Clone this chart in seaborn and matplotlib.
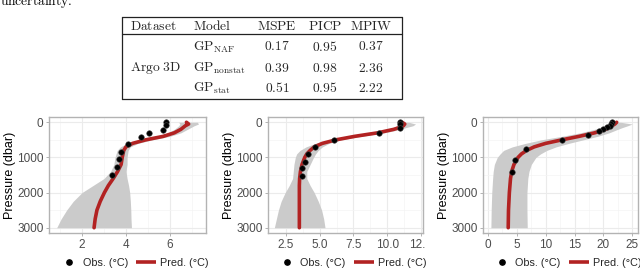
import numpy as np
import pandas as pd
import matplotlib
matplotlib.use("Agg")
import matplotlib.pyplot as plt
import seaborn as sns
from matplotlib.lines import Line2D
from matplotlib.patches import Rectangle

# ---------------- table data ----------------
table_header = ["Dataset", "Model", "MSPE", "PICP", "MPIW"]
dataset_name = "Argo 3D"
model_names = ["NAF", "nonstat", "stat"]
mspe_vals = ["0.17", "0.39", "0.51"]
picp_vals = ["0.95", "0.98", "0.95"]
mpiw_vals = ["0.37", "2.36", "2.22"]

# ---------------- panel 1 ----------------
obs1_temp = [5.82, 5.82, 5.70, 5.06, 4.68, 4.08, 3.76, 3.70, 3.58, 3.35]
obs1_pres = [0, 65, 207, 303, 415, 632, 840, 1048, 1275, 1500]
grid1_pres = [0, 50, 100, 200, 300, 400, 500, 600, 700, 800, 1000, 1200, 1400,
              1600, 1800, 2000, 2250, 2500, 2750, 3000]
pred1 = [6.75, 6.85, 6.7, 6.5, 6.2, 5.7, 4.9, 4.3, 4.0, 3.9, 3.83, 3.78, 3.62,
         3.42, 3.2, 3.02, 2.83, 2.68, 2.6, 2.55]
lower1 = [6.4, 6.45, 6.4, 6.2, 5.9, 5.4, 4.6, 4.05, 3.75, 3.6, 3.5, 3.45, 3.3,
          3.0, 2.5, 2.0, 1.6, 1.3, 1.05, 0.85]
upper1 = [7.25, 7.3, 7.1, 6.8, 6.5, 6.0, 5.2, 4.55, 4.2, 4.1, 4.05, 4.05, 4.0,
          4.05, 4.12, 4.17, 4.2, 4.22, 4.23, 4.25]

# ---------------- panel 2 ----------------
obs2_temp = [10.96, 10.96, 10.96, 9.43, 6.10, 4.65, 4.17, 3.92, 3.73, 3.68]
obs2_pres = [0, 60, 160, 312, 510, 708, 907, 1124, 1312, 1521]
grid2_pres = [0, 50, 100, 150, 200, 300, 400, 500, 600, 700, 800, 900, 1000,
              1200, 1400, 1600, 1800, 2000, 2250, 2500, 2750, 3000]
pred2 = [11.1, 11.3, 11.2, 10.9, 10.5, 9.3, 7.6, 6.2, 5.2, 4.6, 4.3, 4.05, 3.9,
         3.7, 3.58, 3.52, 3.5, 3.5, 3.5, 3.5, 3.5, 3.5]
lower2 = [10.7, 10.8, 10.7, 10.4, 10.0, 8.9, 7.2, 5.8, 4.7, 4.0, 3.55, 3.3, 3.2,
          3.1, 3.05, 3.0, 2.75, 2.45, 2.15, 1.95, 1.8, 1.65]
upper2 = [11.6, 12.1, 11.9, 11.4, 11.0, 9.8, 8.1, 6.6, 5.7, 5.2, 4.9, 4.7, 4.55,
          4.3, 4.05, 4.05, 4.3, 4.6, 4.9, 5.15, 5.3, 5.4]

# ---------------- panel 3 ----------------
obs3_temp = [21.5, 21.4, 21.1, 20.6, 19.9, 19.2, 17.4, 12.8, 6.6, 4.7, 4.1]
obs3_pres = [0, 40, 110, 135, 180, 246, 348, 510, 765, 1076, 1407]
grid3_pres = [0, 50, 100, 150, 200, 300, 400, 500, 600, 700, 800, 900, 1000,
              1200, 1400, 1600, 2000, 2500, 3000]
pred3 = [22.3, 22.0, 21.5, 21.0, 20.4, 18.5, 15.8, 12.8, 10.0, 8.0, 6.7, 5.8,
         5.2, 4.5, 4.1, 3.9, 3.7, 3.55, 3.5]
lower3 = [21.5, 21.0, 20.3, 19.5, 18.5, 16.0, 12.8, 9.2, 6.5, 4.2, 2.7, 2.1,
          1.6, 1.1, 0.9, 0.8, 0.65, 0.55, 0.5]
upper3 = [23.0, 25.0, 24.2, 23.3, 22.5, 21.0, 19.0, 16.5, 14.0, 11.8, 10.2, 9.1,
          8.3, 7.5, 7.1, 6.9, 6.75, 6.75, 6.8]

x_ticks = [[2, 4, 6], [2.5, 5.0, 7.5, 10.0, 12.5], [0, 5, 10, 15, 20, 25]]
x_ticklabels = [["2", "4", "6"], ["2.5", "5.0", "7.5", "10.0", "12.5"],
                ["0", "5", "10", "15", "20", "25"]]
x_minor = [[1, 3, 5, 7], [3.75, 6.25, 8.75, 11.25], [2.5, 7.5, 12.5, 17.5, 22.5]]
x_limits = [(0.5, 7.64), (1.18, 12.65), (-0.87, 26.0)]
y_ticks = [0, 1000, 2000, 3000]
y_minor = [500, 1500, 2500]
y_label = "Pressure (dbar)"
legend_labels = ["Obs. (°C)", "Pred. (°C)"]

# ---------------- figure ----------------
sns.set_theme(style="white")
plt.rcParams["font.family"] = ["Liberation Sans", "DejaVu Sans"]
plt.rcParams["mathtext.fontset"] = "cm"

W, H = 640, 268
fig = plt.figure(figsize=(6.4, 2.68), dpi=100)
fig.patch.set_facecolor("white")


def fx(x):
    return x / W


def fy(y):
    return 1 - y / H


RED = "#B22222"
RIBBON = "#CBCBCB"
GRID = "#EBEBEB"
BORDER = "#B3B3B3"
TICKCOL = "#4D4D4D"

panels = [
    (obs1_temp, obs1_pres, grid1_pres, pred1, lower1, upper1, 49, 206),
    (obs2_temp, obs2_pres, grid2_pres, pred2, lower2, upper2, 268, 423),
    (obs3_temp, obs3_pres, grid3_pres, pred3, lower3, upper3, 483, 638),
]
ax_top, ax_bot = 117, 233

for i, (ot, op, gp, pr, lo, up, xl, xr) in enumerate(panels):
    ax = fig.add_axes([fx(xl), fy(ax_bot), (xr - xl) / W, (ax_bot - ax_top) / H])
    ax.set_facecolor("white")
    ax.fill_betweenx(gp, lo, up, color=RIBBON, lw=0, zorder=1)
    sns.lineplot(x=pr, y=gp, sort=False, color=RED, lw=2.6, ax=ax, zorder=2,
                 estimator=None)
    sns.scatterplot(x=ot, y=op, color="black", s=16, edgecolor="#444444",
                    linewidth=0.4, ax=ax, zorder=3)
    ax.set_xlim(*x_limits[i])
    ax.set_ylim(3150, -150)
    ax.set_xticks(x_ticks[i])
    ax.set_xticklabels(x_ticklabels[i])
    ax.set_xticks(x_minor[i], minor=True)
    ax.set_yticks(y_ticks)
    ax.set_yticklabels([str(v) for v in y_ticks])
    ax.set_yticks(y_minor, minor=True)
    ax.grid(True, which="major", color=GRID, lw=0.8, zorder=0)
    ax.grid(True, which="minor", color="#F4F4F4", lw=0.5, zorder=0)
    ax.set_axisbelow(True)
    for s in ax.spines.values():
        s.set_color(BORDER)
        s.set_linewidth(1.0)
    ax.tick_params(axis="both", which="major", length=2.5, width=0.7,
                   color=BORDER, labelcolor=TICKCOL, labelsize=8.5, pad=1.5,
                   bottom=True, left=True)
    ax.tick_params(axis="both", which="minor", length=0)
    ax.set_xlabel("")
    ax.set_ylabel(y_label, fontsize=9, color="black", labelpad=0.5)
    handles = [
        Line2D([], [], marker="o", color="black", ls="none", markersize=3.8),
        Line2D([], [], color=RED, lw=2.6, solid_capstyle="butt"),
    ]
    ax.legend(handles, legend_labels, loc="center", bbox_to_anchor=(0.54, -0.255),
              ncol=2, frameon=False, fontsize=7.8, handlelength=1.8,
              handletextpad=0.35, columnspacing=0.8, borderaxespad=0,
              borderpad=0)

# clip the last tick label of panel 2 like the original image edge
fig.add_artist(Rectangle((fx(425), fy(252)), 7 / W, 18 / H, transform=fig.transFigure,
                         facecolor="white", edgecolor="none", zorder=10))

# ---------------- table ----------------
TS = 9.7
# fragment of preceding text
fig.text(fx(0), fy(5), r"$\mathrm{uncertainty.}$", fontsize=TS, ha="left",
         va="baseline", color="black")

tl, tr, tt, tb, th = 122, 402, 17, 99, 34
for (x0, y0, x1, y1) in [(tl, tt, tr, tt), (tl, tb, tr, tb), (tl, tt, tl, tb),
                         (tr, tt, tr, tb), (tl, th, tr, th)]:
    fig.add_artist(Line2D([fx(x0), fx(x1)], [fy(y0), fy(y1)], color="#222222",
                          lw=0.9, transform=fig.transFigure))

hdr_y = 26
col_left = [130, 193]
col_center = [277, 325, 371]
fig.text(fx(col_left[0]), fy(hdr_y), r"$\mathrm{" + table_header[0] + "}$",
         fontsize=TS, ha="left", va="center")
fig.text(fx(col_left[1]), fy(hdr_y), r"$\mathrm{" + table_header[1] + "}$",
         fontsize=TS, ha="left", va="center")
for c, h in zip(col_center, table_header[2:]):
    fig.text(fx(c), fy(hdr_y), r"$\mathrm{" + h + "}$", fontsize=TS,
             ha="center", va="center")

row_y = [47, 68, 88]
fig.text(fx(col_left[0]), fy(row_y[1]), r"$\mathrm{Argo\ 3D}$", fontsize=TS,
         ha="left", va="center")
for r, m in enumerate(model_names):
    fig.text(fx(col_left[1]), fy(row_y[r]) , r"$\mathrm{GP}_{\mathrm{" + m + "}}$",
             fontsize=TS, ha="left", va="center")
    for c, vals in zip(col_center, [mspe_vals, picp_vals, mpiw_vals]):
        fig.text(fx(c), fy(row_y[r]), r"$" + vals[r] + "$", fontsize=TS,
                 ha="center", va="center")

fig.savefig("out.png", dpi=100)
